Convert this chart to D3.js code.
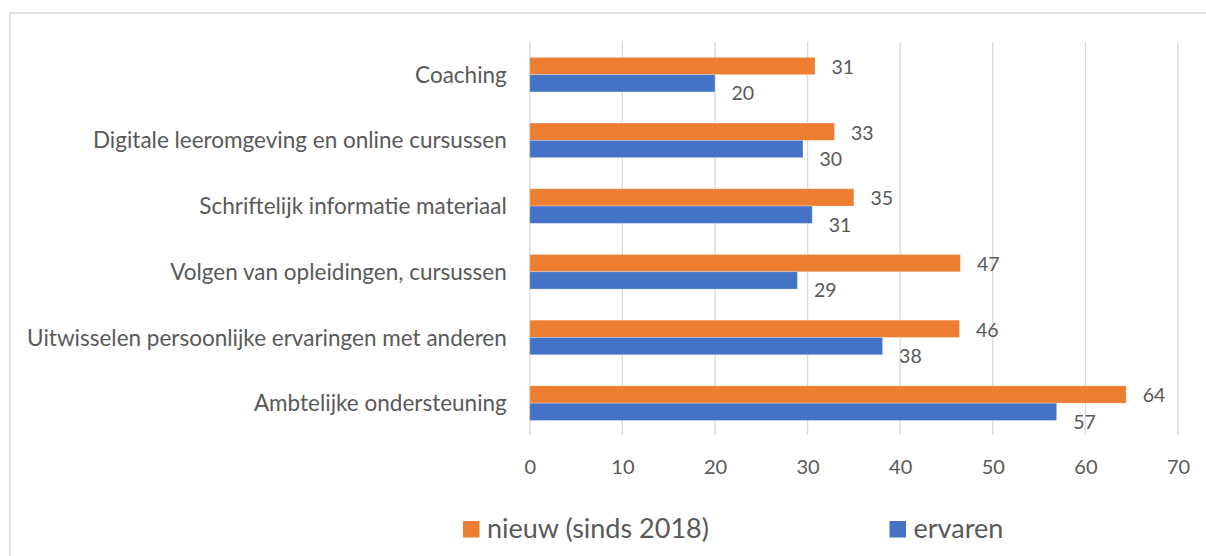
<!DOCTYPE html>
<html>
<head>
    <title>Ondersteuning</title>
    <script src="https://d3js.org/d3.v7.min.js"></script>
    <style>
        body { margin: 0; background: #fff; }
        text { font-family: Lato, "Open Sans", sans-serif; fill: #595959; }
    </style>
</head>
<body>
    <div id="chart"></div>

    <script>
        // categories, top to bottom
        var categories = [
            "Coaching",
            "Digitale leeromgeving en online cursussen",
            "Schriftelijk informatie materiaal",
            "Volgen van opleidingen, cursussen",
            "Uitwisselen persoonlijke ervaringen met anderen",
            "Ambtelijke ondersteuning"
        ];
        var nieuw = [30.8, 32.9, 35.0, 46.5, 46.4, 64.4];
        var ervaren = [20.0, 29.5, 30.5, 28.9, 38.1, 56.9];
        var seriesNames = ["nieuw (sinds 2018)", "ervaren"];
        var seriesColors = ["#ED7D31", "#4472C4"];
        var xTicks = [0, 10, 20, 30, 40, 50, 60, 70];

        var width = 1206, height = 556;
        var svg = d3.select("#chart").append("svg")
            .attr("width", width).attr("height", height);

        // outer frame (only top and left visible)
        svg.append("path")
            .attr("d", "M10,556 V13 H1206")
            .attr("fill", "none")
            .attr("stroke", "#d9d9d9")
            .attr("stroke-width", 1.5);

        var x = d3.scaleLinear().domain([0, 70]).range([529.8, 1178]);
        var y = d3.scaleBand().domain(categories).range([41.8, 436])
            .paddingInner(0.473).paddingOuter(0.2365);
        var ySub = d3.scaleBand().domain([0, 1]).range([0, y.bandwidth()]);

        // gridlines
        svg.append("g")
            .selectAll("line")
            .data(xTicks)
            .enter().append("line")
            .attr("x1", function(d) { return x(d); })
            .attr("x2", function(d) { return x(d); })
            .attr("y1", 42)
            .attr("y2", 435)
            .attr("stroke", "#d9d9d9")
            .attr("stroke-width", 1.3);

        // x axis labels
        var xAxis = svg.append("g")
            .attr("transform", "translate(0,435)")
            .call(d3.axisBottom(x).tickValues(xTicks).tickSize(0).tickPadding(25));
        xAxis.select(".domain").remove();
        xAxis.selectAll("text").attr("font-size", 20).style("font-family", "Lato");

        // category labels
        var yAxis = svg.append("g")
            .attr("transform", "translate(529.8,0)")
            .call(d3.axisLeft(y).tickSize(0).tickPadding(23));
        yAxis.select(".domain").remove();
        yAxis.selectAll("text")
            .attr("font-size", 22.5)
            .attr("dy", "0.36em")
            .style("font-family", "Lato");

        var series = [nieuw, ervaren];
        var labelDy = [8, 17];

        series.forEach(function(vals, s) {
            var g = svg.append("g");
            g.selectAll("rect")
                .data(vals)
                .enter().append("rect")
                .attr("x", x(0))
                .attr("y", function(d, i) { return y(categories[i]) + ySub(s); })
                .attr("width", function(d) { return x(d) - x(0); })
                .attr("height", ySub.bandwidth())
                .attr("fill", seriesColors[s])
                .attr("stroke", "#fff")
                .attr("stroke-opacity", 0.35)
                .attr("stroke-width", 0.8);

            g.selectAll("text")
                .data(vals)
                .enter().append("text")
                .attr("x", function(d) { return x(d) + 16.5; })
                .attr("y", function(d, i) {
                    return y(categories[i]) + ySub(s) + ySub.bandwidth() / 2 + labelDy[s];
                })
                .attr("font-size", 19.5)
                .text(function(d) { return Math.round(d); });
        });

        // legend
        var legendX = [463, 889.5];
        var legend = svg.append("g");
        seriesNames.forEach(function(name, s) {
            legend.append("rect")
                .attr("x", legendX[s]).attr("y", 521)
                .attr("width", 16.5).attr("height", 16.5)
                .attr("fill", seriesColors[s]);
            legend.append("text")
                .attr("x", legendX[s] + 24)
                .attr("y", 538)
                .attr("font-size", 27)
                .text(name);
        });
    </script>
</body>
</html>
